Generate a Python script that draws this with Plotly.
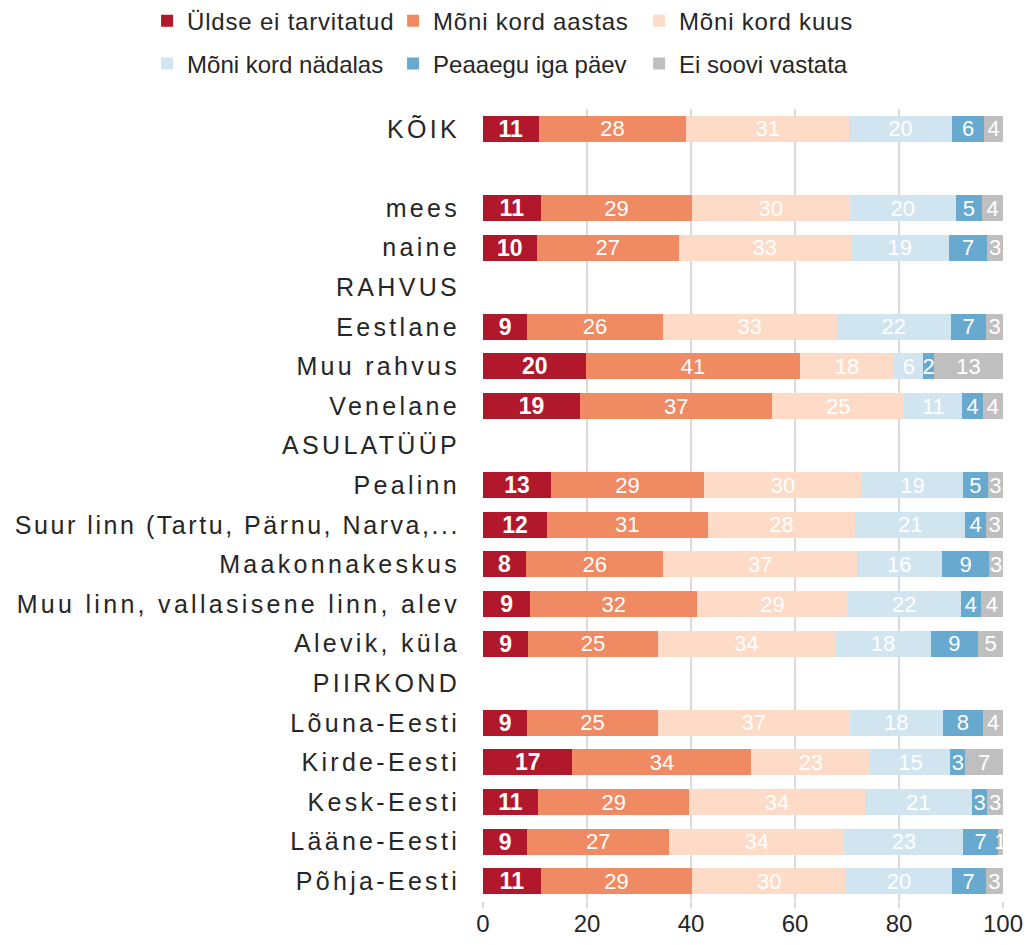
import plotly.graph_objects as go

categories = [
    "KÕIK", " ", "mees", "naine", "RAHVUS", "Eestlane", "Muu rahvus", "Venelane",
    "ASULATÜÜP", "Pealinn", "Suur linn (Tartu, Pärnu, Narva,...",
    "Maakonnakeskus", "Muu linn, vallasisene linn, alev", "Alevik, küla",
    "PIIRKOND", "Lõuna-Eesti", "Kirde-Eesti", "Kesk-Eesti", "Lääne-Eesti", "Põhja-Eesti",
]

series_names = [
    "Üldse ei tarvitatud", "Mõni kord aastas", "Mõni kord kuus",
    "Mõni kord nädalas", "Peaaegu iga päev", "Ei soovi vastata",
]

uldse_ei = [10.7, None, 11.1, 10.3, None, 8.5, 19.9, 18.7, None, 13.1, 12.3, 8.3, 9.1, 8.7, None, 8.5, 17.2, 10.6, 8.5, 11.1]
kord_aastas = [28.4, None, 29.1, 27.4, None, 26.1, 41.0, 36.9, None, 29.4, 30.9, 26.4, 32.1, 24.9, None, 25.1, 34.4, 29.1, 27.3, 29.1]
kord_kuus = [31.3, None, 30.3, 33.0, None, 33.4, 18.2, 25.4, None, 30.4, 28.4, 37.2, 28.9, 34.1, None, 36.9, 22.9, 33.7, 33.7, 29.7]
kord_nadalas = [19.8, None, 20.4, 18.9, None, 22.0, 5.6, 11.2, None, 19.4, 21.1, 16.3, 21.8, 18.4, None, 17.9, 15.4, 20.6, 22.9, 20.2]
iga_paev = [6.2, None, 5.1, 7.4, None, 6.8, 2.0, 3.9, None, 4.8, 4.1, 9.2, 3.8, 9.1, None, 7.8, 2.8, 3.0, 6.6, 6.6]
ei_soovi = [3.6, None, 4.0, 3.0, None, 3.2, 13.3, 3.9, None, 2.9, 3.2, 2.6, 4.3, 4.8, None, 3.8, 7.3, 3.0, 1.0, 3.3]

series_values = [uldse_ei, kord_aastas, kord_kuus, kord_nadalas, iga_paev, ei_soovi]
colors = ["#B2182B", "#EF8A62", "#FDDBC7", "#D1E5F0", "#67A9CF", "#BFBFBF"]
x_ticks = [0, 20, 40, 60, 80, 100]

FONT = "Liberation Sans, Arial, sans-serif"

fig = go.Figure()
for i, (name, vals, col) in enumerate(zip(series_names, series_values, colors)):
    first = i == 0
    fig.add_trace(go.Bar(
        y=categories, x=vals, name=name, orientation="h",
        marker=dict(color=col, line=dict(width=0)),
        width=0.66,
        texttemplate="%{x:.0f}",
        textposition="inside",
        insidetextanchor="middle",
        textangle=0,
        textfont=dict(family=FONT, size=23 if first else 22, color="white",
                      weight="bold" if first else "normal"),
        legend="legend" if i < 3 else "legend2",
        hoverinfo="skip",
    ))

legend_common = dict(
    orientation="h", xanchor="left", yanchor="middle",
    font=dict(family=FONT, size=24, color="#262626"),
    entrywidth=201, entrywidthmode="pixels",
    bgcolor="rgba(0,0,0,0)", traceorder="normal",
    itemclick=False, itemdoubleclick=False,
)

fig.update_layout(
    width=1031, height=945,
    margin=dict(l=483, r=28, t=109, b=44, autoexpand=False),
    barmode="stack",
    plot_bgcolor="white", paper_bgcolor="white",
    font=dict(family=FONT, color="#262626"),
    uniformtext=dict(minsize=22, mode="show"),
    legend=dict(x=-0.646, y=1.111, **legend_common),
    legend2=dict(x=-0.646, y=1.057, **legend_common),
    xaxis=dict(
        range=[0, 100], tickvals=x_ticks, showgrid=True, gridcolor="#D9D9D9", gridwidth=2,
        zeroline=False, showline=False, ticks="outside", ticklen=6, tickcolor="#D9D9D9", tickwidth=2,
        ticklabelstandoff=-5,
        tickfont=dict(family=FONT, size=24, color="#262626"),
    ),
    yaxis=dict(
        categoryorder="array", categoryarray=categories, autorange="reversed",
        showgrid=False, zeroline=False, showline=False, ticks="",
        ticklabelstandoff=22,
        tickfont=dict(family=FONT, size=25, color="#262626"),
    ),
)

post = """
document.body.style.margin = '0';
document.body.style.padding = '0';
var gd = document.getElementById('{plot_id}');
function fixSpacing(){
  gd.querySelectorAll('.ytick text').forEach(function(t){
    var s = t.textContent || '';
    t.style.letterSpacing = (s.indexOf('Suur linn') === 0) ? '2.55px' : '3.3px';
  });
  gd.querySelectorAll('.legendtext').forEach(function(t){ t.style.letterSpacing = '0.8px'; });
}
fixSpacing();
gd.on('plotly_afterplot', fixSpacing);
"""

fig.write_html("out.html", post_script=post, config={"displayModeBar": False})
